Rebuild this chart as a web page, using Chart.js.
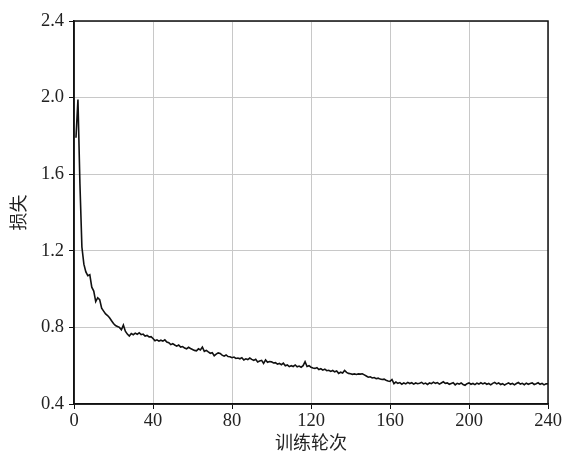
<!DOCTYPE html>
<html>
<head>
<meta charset="utf-8">
<script src="https://cdn.jsdelivr.net/npm/chart.js@4.4.1/dist/chart.umd.min.js"></script>
<style>
  html, body { margin: 0; padding: 0; background: #fff; }
  #wrap { width: 566px; height: 460px; }
</style>
</head>
<body>
<div id="wrap"><canvas id="grafico-perdida"></canvas></div>
<script>
// --- DATOS ---
const EPOCAS_INICIO = 1;
const perdida = [
  1.79, 1.99, 1.55, 1.22, 1.13, 1.09, 1.07, 1.075, 1.01, 0.99,
  0.935, 0.955, 0.945, 0.90, 0.885, 0.87, 0.862, 0.85, 0.835, 0.82,
  0.81, 0.805, 0.80, 0.788, 0.812, 0.78, 0.765, 0.755, 0.768, 0.762,
  0.77, 0.764, 0.772, 0.762, 0.765, 0.755, 0.758, 0.75, 0.752, 0.742,
  0.73, 0.735, 0.728, 0.733, 0.728, 0.735, 0.724, 0.72, 0.71, 0.715,
  0.708, 0.702, 0.708, 0.697, 0.70, 0.692, 0.688, 0.696, 0.69, 0.685,
  0.68, 0.678, 0.688, 0.682, 0.697, 0.675, 0.68, 0.672, 0.665, 0.668,
  0.652, 0.66, 0.667, 0.664, 0.655, 0.65, 0.656, 0.648, 0.647, 0.642,
  0.645, 0.638, 0.64, 0.636, 0.642, 0.63, 0.636, 0.632, 0.64, 0.633,
  0.628, 0.634, 0.62, 0.625, 0.628, 0.612, 0.63, 0.618, 0.622, 0.62,
  0.614, 0.616, 0.608, 0.612, 0.605, 0.613, 0.60, 0.604, 0.595, 0.60,
  0.596, 0.604, 0.594, 0.598, 0.592, 0.60, 0.621, 0.596, 0.60, 0.592,
  0.588, 0.586, 0.59, 0.58, 0.584, 0.577, 0.582, 0.574, 0.576, 0.57,
  0.575, 0.568, 0.572, 0.56, 0.566, 0.562, 0.575, 0.565, 0.56, 0.558,
  0.555, 0.557, 0.554, 0.557, 0.556, 0.558, 0.552, 0.546, 0.54, 0.542,
  0.536, 0.538, 0.532, 0.535, 0.53, 0.528, 0.53, 0.524, 0.52, 0.518,
  0.528, 0.506, 0.515, 0.508, 0.512, 0.503, 0.51, 0.505, 0.513, 0.507,
  0.511, 0.504, 0.51, 0.506, 0.508, 0.513, 0.505, 0.509, 0.502, 0.51,
  0.506, 0.514, 0.508, 0.512, 0.504, 0.51, 0.516, 0.508, 0.51, 0.503,
  0.507, 0.511, 0.50, 0.508, 0.504, 0.51, 0.502, 0.498, 0.506, 0.51,
  0.503, 0.507, 0.501, 0.509, 0.504, 0.511, 0.505, 0.51, 0.503, 0.507,
  0.50, 0.508, 0.513, 0.505, 0.51, 0.502, 0.506, 0.499, 0.505, 0.51,
  0.503, 0.508, 0.50, 0.507, 0.512, 0.504, 0.508, 0.501, 0.509, 0.503,
  0.507, 0.51, 0.502, 0.506, 0.511, 0.503, 0.508, 0.50, 0.505, 0.506
];
const ticksX = [0, 40, 80, 120, 160, 200, 240];
const ticksY = [0.4, 0.8, 1.2, 1.6, 2.0, 2.4];
const tituloX = "训练轮次";
const tituloY = "损失";

const puntos = perdida.map((v, i) => ({ x: EPOCAS_INICIO + i, y: v }));

// --- MARCO NEGRO ALREDEDOR DEL ÁREA ---
const marco = {
  id: "marco",
  afterDraw(chart) {
    const { ctx, chartArea: a } = chart;
    ctx.save();
    ctx.strokeStyle = "#111";
    ctx.lineWidth = 1.5;
    ctx.strokeRect(a.left, a.top, a.right - a.left, a.bottom - a.top);
    ctx.restore();
  }
};

const fuenteNum = { family: "'Liberation Serif', 'Times New Roman', serif", size: 18.5 };
const fuenteCJK = { family: "'Noto Sans CJK SC', sans-serif", size: 18 };

new Chart(document.getElementById("grafico-perdida").getContext("2d"), {
  type: "line",
  data: {
    datasets: [{
      data: puntos,
      borderColor: "#111",
      borderWidth: 1.6,
      pointRadius: 0,
      tension: 0,
      fill: false
    }]
  },
  options: {
    responsive: true,
    maintainAspectRatio: false,
    animation: false,
    layout: { padding: { left: 7, right: 18, top: 21, bottom: 0 } },
    plugins: { legend: { display: false }, tooltip: { enabled: false } },
    scales: {
      x: {
        type: "linear",
        min: 0,
        max: 240,
        afterBuildTicks: (s) => { s.ticks = ticksX.map(v => ({ value: v })); },
        afterFit: (s) => { s.height = 56; },
        grid: { color: "#c8c8c8", tickColor: "#111", tickLength: 5, lineWidth: 1 },
        border: { color: "#111", width: 1.5 },
        ticks: { color: "#222", font: fuenteNum, padding: 1, maxRotation: 0 },
        title: { display: true, text: tituloX, color: "#222", font: fuenteCJK, padding: { top: 0, bottom: 7 } }
      },
      y: {
        min: 0.4,
        max: 2.4,
        afterBuildTicks: (s) => { s.ticks = ticksY.map(v => ({ value: v })); },
        afterFit: (s) => { s.width = 67; },
        grid: { color: "#c8c8c8", tickColor: "#111", tickLength: 5, lineWidth: 1 },
        border: { color: "#111", width: 1.5 },
        ticks: { color: "#222", font: fuenteNum, padding: 5, callback: (v) => v.toFixed(1) },
        title: { display: true, text: tituloY, color: "#222", font: fuenteCJK, padding: { top: 0, bottom: 0 } }
      }
    }
  },
  plugins: [marco]
});
</script>
</body>
</html>
